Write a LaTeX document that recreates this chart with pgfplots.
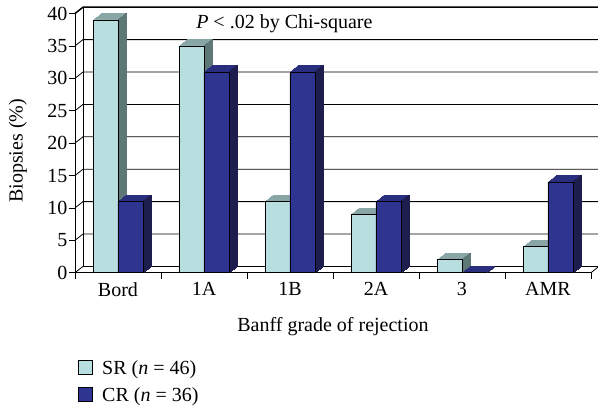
\documentclass[border=0pt]{standalone}
\usepackage{pgfplots}
\usepackage{pgfplotstable}
\pgfplotsset{compat=1.18}
\usepackage{fontspec}
\setmainfont{Liberation Serif}
\definecolor{srfront}{HTML}{B8DEE0}
\definecolor{srtop}{HTML}{88A6A6}
\definecolor{srside}{HTML}{5E7777}
\definecolor{crfront}{HTML}{2E3591}
\definecolor{crtop}{HTML}{2A2E7E}
\definecolor{crside}{HTML}{1D1D4E}
\pgfplotstableread{
x sr cr
0 39 11
1 35 31
2 11 31
3 9 11
4 2 0
5 4 14
}\datatable
\begin{document}
\begin{tikzpicture}[font=\fontsize{20}{24}\selectfont]
\useasboundingbox (-75pt,-135.3pt) rectangle (523pt,272.7pt);
\begin{axis}[
  at={(0pt,0pt)}, anchor=south west,
  scale only axis, width=516pt, height=259.2pt,
  xmin=-0.5, xmax=5.5, ymin=0, ymax=40,
  axis x line*=bottom, axis y line*=left,
  axis line style={-, line width=0.8pt},
  ytick={0,5,...,40},
  yticklabels={0,5,10,15,20,25,30,35,40},
  xtick={-0.5,0.5,...,5.5}, xticklabels={},
  extra x ticks={0,1,2,3,4,5},
  extra x tick labels={Bord,1A,1B,2A,3,AMR},
  extra x tick style={major tick length=0pt, tick label style={yshift=-6pt}},
  tick align=outside, major tick length=6pt,
  tick style={black, line width=0.8pt},
  clip=false,
  tick label style={font=\fontsize{20}{24}\selectfont},
  yticklabel style={xshift=2pt},
  every axis y label/.style={at={(axis description cs:-0.111,0.47)}, rotate=90, anchor=center},
  every axis x label/.style={at={(axis description cs:0.5,0)}, anchor=base, yshift=-59pt},
  ylabel={Biopsies (\%)},
  xlabel={Banff grade of rejection},
  legend style={at={(axis description cs:0,0)}, anchor=north west, yshift=-84pt, xshift=-2pt,
    draw=none, fill=none, row sep=7pt, font=\fontsize{20}{24}\selectfont},
  legend cell align=left,
]
% back wall and grid
\pgfplotsinvokeforeach{0,5,...,35}{
  \draw[black, line width=0.8pt] (axis cs:-0.5,#1) -- ++(8pt,6.3pt) -- ++(520pt,0pt);
}
\draw[black, line width=1.5pt] (axis cs:-0.5,40) -- ++(8pt,6.3pt) -- ++(520pt,0pt);
\draw[black, line width=0.8pt] (axis cs:-0.5,0) ++(8pt,6.3pt) -- ++(0pt,259.2pt);
\draw[black, line width=0.8pt] (axis cs:5.5,0) -- ++(8pt,6.3pt);
% SR 3D faces
\pgfplotsinvokeforeach{1,...,8}{
  \addplot[forget plot, ybar, bar shift=-12.5pt, bar width=25pt, fill=srtop, draw=srtop, line width=0.5pt,
    xshift=#1pt, yshift=#1*0.79pt] table[x=x,y=sr]{\datatable};
}
\pgfplotsinvokeforeach{1,...,8}{
  \addplot[forget plot, ybar, bar shift=0pt, bar width=1.2pt, fill=srside, draw=srside, line width=0.4pt,
    xshift=#1pt, yshift=#1*0.79pt] table[x=x,y=sr]{\datatable};
}
\addplot[ybar, bar shift=-12.5pt, bar width=25pt, fill=srfront, draw=black, line width=0.6pt,
  legend image code/.code={\path[draw=none, fill=none] (0pt,0pt) rectangle (24pt,1pt);
    \draw[fill=srfront, draw=black, line width=0.6pt] (2pt,-6pt) rectangle (16pt,8pt);}]
  table[x=x,y=sr]{\datatable};
\addlegendentry{SR (\textit{n} = 46)}
% CR 3D faces
\pgfplotsinvokeforeach{1,...,8}{
  \addplot[forget plot, ybar, bar shift=12.5pt, bar width=25pt, fill=crtop, draw=crtop, line width=0.5pt,
    xshift=#1pt, yshift=#1*0.79pt] table[x=x,y=cr]{\datatable};
}
\pgfplotsinvokeforeach{1,...,8}{
  \addplot[forget plot, ybar, bar shift=25pt, bar width=1.2pt, fill=crside, draw=crside, line width=0.4pt,
    xshift=#1pt, yshift=#1*0.79pt] table[x=x,y=cr]{\datatable};
}
\addplot[ybar, bar shift=12.5pt, bar width=25pt, fill=crfront, draw=black, line width=0.6pt,
  legend image code/.code={\path[draw=none, fill=none] (0pt,0pt) rectangle (24pt,1pt);
    \draw[fill=crfront, draw=black, line width=0.6pt] (2pt,-6pt) rectangle (16pt,8pt);}]
  table[x=x,y=cr]{\datatable};
\addlegendentry{CR (\textit{n} = 36)}
\node[anchor=base west] at (axis cs:0.869,37.72) {\textit{P} < .02 by Chi-square};
\end{axis}
\end{tikzpicture}
\end{document}
